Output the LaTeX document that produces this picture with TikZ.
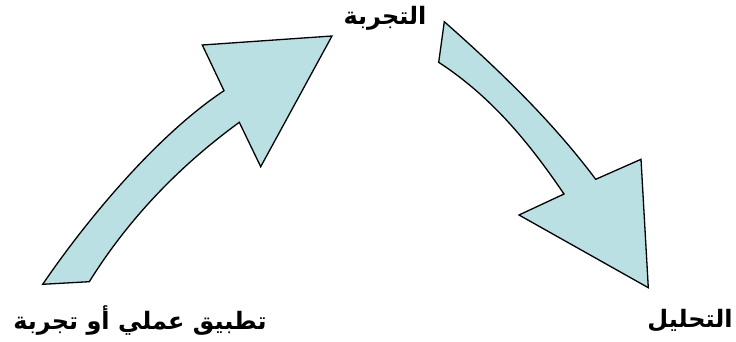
\documentclass[tikz,border=0pt]{standalone}
\usepackage{fontspec}
\usepackage{tikz}
\usetikzlibrary{positioning}
\newfontfamily\arabicfont[Script=Arabic]{DejaVu Sans}
\TeXXeTstate=1
\definecolor{cyclefill}{HTML}{BBE0E3}

\begin{document}
\begin{tikzpicture}[x=1pt, y=-1pt,
    blockarrow/.style={fill=cyclefill, draw=black, line width=1.3pt,
                       line join=miter},
    stagetext/.style={font=\arabicfont\bfseries\fontsize{24}{28}\selectfont,
                      inner sep=0pt}
  ]
    \useasboundingbox (0,0) rectangle (736,342);
    % stages
    \node[stagetext] (practice) at (140,321) {\beginR تطبيق عملي أو تجربة\endR};
    \node[stagetext] (experiment) at (385,18) {\beginR التجربة\endR};
    \node[stagetext] (analysis) at (690,321) {\beginR التحليل\endR};
    % rising arrow
    \draw[blockarrow] (42.7,284.3) .. controls (90,215) and (160,133) .. (224,90.7)
      -- (202.3,45) -- (332,36) -- (260.7,166.7) -- (239.3,122.3)
      .. controls (189,159) and (134,210) .. (89.3,281.7) -- cycle;
    % falling arrow
    \draw[blockarrow] (444.3,21.7) .. controls (499,70) and (552,121) .. (595.7,179.3)
      -- (641,159.3) -- (648.3,287.7) -- (519,215) -- (564,194)
      .. controls (530,144) and (492,97) .. (438.7,62.3) -- cycle;
\end{tikzpicture}
\end{document}
